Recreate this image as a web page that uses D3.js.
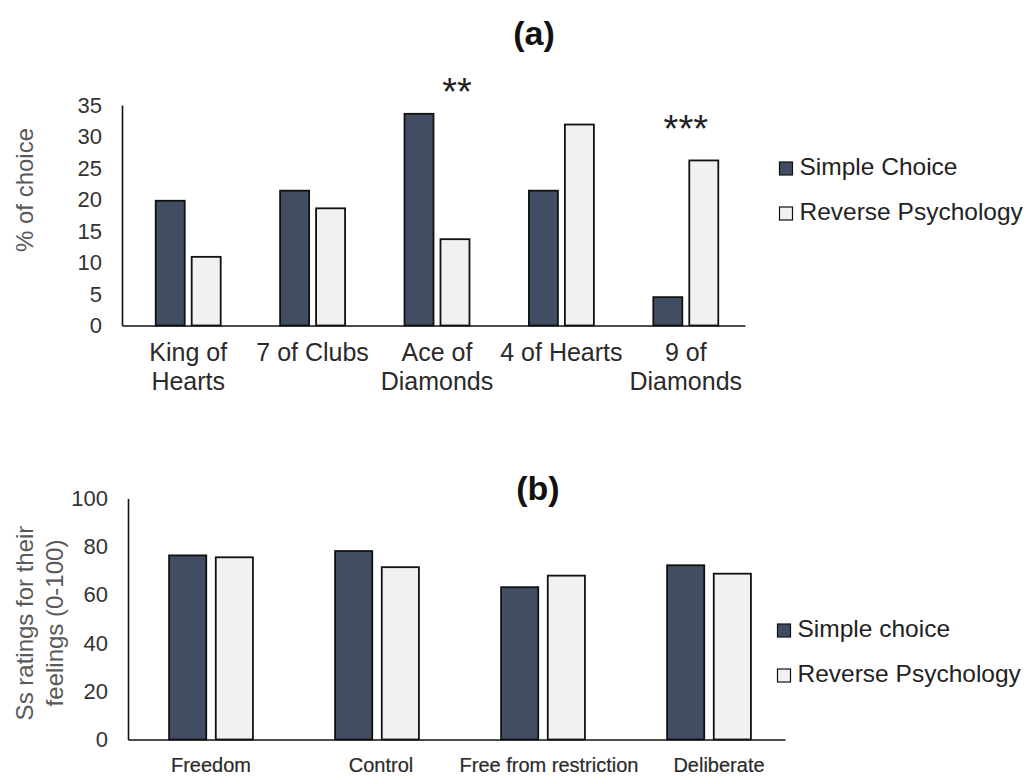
<!DOCTYPE html>
<html>
<head>
<meta charset="utf-8">
<script src="https://cdn.jsdelivr.net/npm/d3@7"></script>
<style>
  body { margin: 0; background: #fff; }
  svg { display: block; font-family: "Liberation Sans", Arial, sans-serif; }
</style>
</head>
<body>
<div id="chart"></div>
<script>
// panel (a): card chosen
const cardNames = ["King of\nHearts", "7 of Clubs", "Ace of\nDiamonds", "4 of Hearts", "9 of\nDiamonds"];
const simpleChoicePct = [19.8, 21.4, 33.6, 21.4, 4.5];
const reversePct = [10.9, 18.6, 13.7, 31.9, 26.2];
const sigMarks = ["", "", "**", "", "***"];
const pctTicks = [0, 5, 10, 15, 20, 25, 30, 35];
const legendA = ["Simple Choice", "Reverse Psychology"];

// panel (b): feelings ratings
const feelingNames = ["Freedom", "Control", "Free from restriction", "Deliberate"];
const simpleChoiceRating = [76.4, 78.2, 63.2, 72.3];
const reverseRating = [75.6, 71.5, 68.0, 68.8];
const ratingTicks = [0, 20, 40, 60, 80, 100];
const legendB = ["Simple choice", "Reverse Psychology"];

const width = 1032;
const height = 776;
const fills = ["#404d62", "#f1f1f1"];
const stroke = "#111";

const svg = d3.select("#chart")
    .append("svg")
    .attr("width", width)
    .attr("height", height)
    .attr("viewBox", [0, 0, width, height]);

function drawPanel(p) {
    const data = p.cats.map((c, i) => ({ cat: c, vals: [p.a[i], p.b[i]] }));

    const x0 = d3.scaleBand(p.cats, p.xRange);
    const x1 = d3.scaleBand([0, 1], [0, x0.bandwidth()])
        .paddingInner(p.padIn)
        .paddingOuter(p.padOut);
    const y = d3.scaleLinear([0, p.max], p.yRange);
    // the baseline runs from the y axis to its own end point
    const xLine = d3.scaleLinear([0, 1], [p.axisX, p.axisEnd]);

    // bars
    svg.append("g")
        .selectAll("g")
        .data(data)
        .join("g")
        .attr("transform", d => `translate(${x0(d.cat)},0)`)
        .selectAll("rect")
        .data(d => d.vals)
        .join("rect")
        .attr("x", (v, j) => x1(j))
        .attr("y", v => y(v))
        .attr("width", x1.bandwidth())
        .attr("height", v => y(0) - y(v))
        .attr("fill", (v, j) => fills[j])
        .attr("stroke", stroke)
        .attr("stroke-width", 1.8);

    // y axis
    svg.append("g")
        .attr("transform", `translate(${p.axisX},0)`)
        .call(d3.axisLeft(y).tickValues(p.ticks).tickSize(0).tickPadding(20))
        .call(g => g.select(".domain").attr("stroke", stroke).attr("stroke-width", 1.6))
        .call(g => g.selectAll(".tick text")
            .attr("font-size", 22)
            .attr("fill", "#333")
            .attr("font-family", null));

    // x axis line
    svg.append("g")
        .attr("transform", `translate(0,${y(0)})`)
        .call(d3.axisBottom(xLine).ticks(0).tickSize(0).tickSizeOuter(0))
        .call(g => g.select(".domain").attr("stroke", stroke).attr("stroke-width", 1.6));

    // category labels (may be two lines)
    svg.append("g")
        .selectAll("text")
        .data(p.cats)
        .join("text")
        .attr("x", d => x0(d) + x0.bandwidth() / 2)
        .attr("y", p.labelY)
        .attr("text-anchor", "middle")
        .attr("font-size", p.labelSize)
        .attr("fill", "#2a2a2a")
        .attr("stroke", p.labelStroke ? "#2a2a2a" : null)
        .attr("stroke-width", p.labelStroke || null)
        .selectAll("tspan")
        .data(d => d.split("\n").map(t => ({ t, x: x0(d) + x0.bandwidth() / 2 + (p.labelShift ? p.labelShift[p.cats.indexOf(d)] : 0) })))
        .join("tspan")
        .attr("x", d => d.x)
        .attr("dy", (d, i) => i ? p.labelSize * 1.16 : 0)
        .text(d => d.t);

    // significance marks
    if (p.sig) {
        svg.append("g")
            .selectAll("text")
            .data(p.sig.map((s, i) => ({ s, cat: p.cats[i], i })).filter(d => d.s))
            .join("text")
            .attr("x", d => x0(d.cat) + x0.bandwidth() / 2 + p.sigShift[d.i])
            .attr("y", d => p.sigY[d.i])
            .attr("text-anchor", "middle")
            .attr("font-size", 38)
            .attr("fill", "#222")
            .text(d => d.s);
    }

    // y title
    const yt = svg.append("text")
        .attr("transform", `translate(${p.yTitleX},${p.yTitleY}) rotate(-90)`)
        .attr("text-anchor", "middle")
        .attr("font-size", 24)
        .attr("fill", "#595959");
    yt.selectAll("tspan")
        .data(p.yTitle)
        .join("tspan")
        .attr("x", 0)
        .attr("dy", (d, i) => i ? 30 : 0)
        .text(d => d);

    // panel title
    svg.append("text")
        .attr("x", p.titleX)
        .attr("y", p.titleY)
        .attr("text-anchor", "middle")
        .attr("font-size", 34)
        .attr("font-weight", "bold")
        .attr("fill", "#111")
        .text(p.title);

    // legend
    const lg = svg.append("g")
        .attr("transform", `translate(${p.legend[0]},${p.legend[1]})`)
        .selectAll("g")
        .data(p.legendLabels)
        .join("g")
        .attr("transform", (d, i) => `translate(0,${i * 45})`);
    lg.append("rect")
        .attr("x", 0)
        .attr("y", -13)
        .attr("width", 13)
        .attr("height", 13)
        .attr("fill", (d, i) => fills[i])
        .attr("stroke", stroke)
        .attr("stroke-width", 1.2);
    lg.append("text")
        .attr("x", 20)
        .attr("y", 0)
        .attr("font-size", 24.5)
        .attr("fill", "#222")
        .text(d => d);
}

drawPanel({
    cats: cardNames, a: simpleChoicePct, b: reversePct,
    max: 35, ticks: pctTicks,
    xRange: [126, 748], yRange: [325.5, 105], axisX: 122, axisEnd: 745,
    padIn: 0.194, padOut: 0.826,
    labelY: 361, labelSize: 25,
    sig: sigMarks, sigShift: [0, 0, 20, 0, 0], sigY: [0, 0, 105, 0, 142],
    yTitle: ["% of choice"], yTitleX: 33, yTitleY: 190,
    title: "(a)", titleX: 534, titleY: 45,
    legend: [779.5, 175], legendLabels: legendA
});

drawPanel({
    cats: feelingNames, a: simpleChoiceRating, b: reverseRating,
    max: 100, ticks: ratingTicks,
    xRange: [128, 792], yRange: [739.5, 498.5], axisX: 128, axisEnd: 785,
    padIn: 0.204, padOut: 0.88,
    labelY: 772, labelSize: 20, labelStroke: 0.2, labelShift: [0, 4, 6, 10],
    yTitle: ["Ss ratings for their", "feelings (0-100)"], yTitleX: 33, yTitleY: 623,
    title: "(b)", titleX: 538, titleY: 500,
    legend: [777.5, 637], legendLabels: legendB
});
</script>
</body>
</html>
